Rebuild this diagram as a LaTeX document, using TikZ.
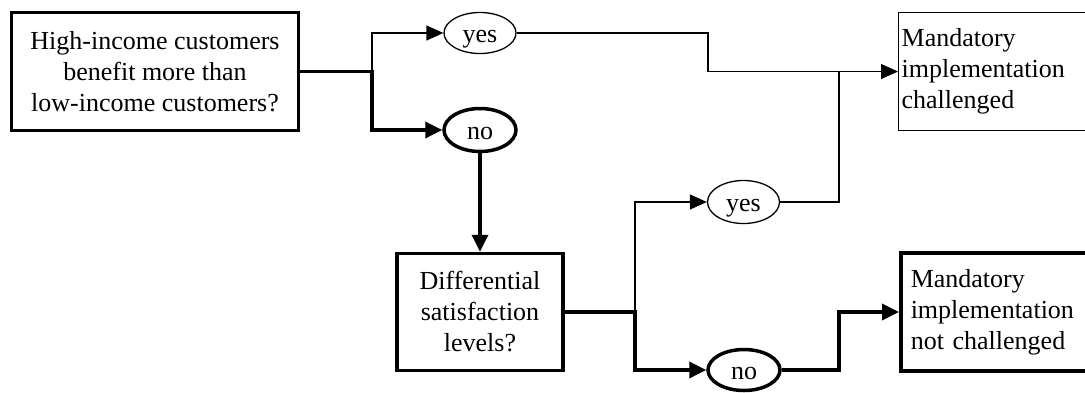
\documentclass[tikz,border=0pt]{standalone}
\usepackage{fontspec}
\setmainfont{Liberation Serif}
\usetikzlibrary{shapes.geometric,arrows.meta,positioning}

\begin{document}
\begin{tikzpicture}[
    x=1pt, y=-1pt,
    font=\fontsize{26}{31}\selectfont,
    question/.style={rectangle, draw, line width=3.5pt, align=center, minimum width=287pt, minimum height=118pt},
    outcome/.style={rectangle, draw, anchor=west, align=left, text width=260pt, minimum height=118pt},
    answer/.style={ellipse, draw, line width=1.3pt, inner sep=0pt, text height=18pt, text depth=0pt, minimum width=72pt, minimum height=41pt},
    arrow/.style={-{Triangle[length=17pt,width=15pt]}, line width=1.3pt},
    thickarrow/.style={-{Triangle[length=17pt,width=16pt]}, line width=3.5pt}
]
\clip (0,0) rectangle (1085,392);

\node[question] (income) at (155,71.5) {High-income customers\\benefit more than\\low-income customers?};
\node[answer] (yesa) at (480,33) {yes};
\node[answer, line width=3.5pt, minimum height=43pt] (noa) at (480,130) {no};
\node[outcome, line width=1.3pt, inner xsep=3pt] (chal) at (898,71.5) {Mandatory\\implementation\\challenged};

\node[question, minimum width=166pt, minimum height=117pt] (satis) at (480,312) {Differential\\satisfaction\\levels?};
\node[answer, minimum height=43pt] (yesb) at (743.5,202) {yes};
\node[answer, line width=3.5pt] (nob) at (744,370) {no};
\node[outcome, line width=3.5pt, inner xsep=10pt] (notchal) at (899,312) {Mandatory\\implementation\\not challenged};

% junctions and bends
\coordinate (forka) at (372,71.5);
\coordinate (forkb) at (635,312);
\coordinate (joina) at (708,71.5);
\coordinate (joinb) at (839,71.5);
\coordinate (joinc) at (839,312);

\draw[thickarrow] (income.east) -- (forka) |- (noa.west);
\draw[arrow] (forka) |- (yesa.west);
\draw[arrow] (yesa.east) -| (joina) -- (chal.west);
\draw[thickarrow] (noa.south) -- (satis.north);

\draw[thickarrow] (satis.east) -- (forkb) |- (nob.west);
\draw[arrow] (forkb) |- (yesb.west);
\draw[line width=1.3pt] (yesb.east) -| (joinb);
\draw[thickarrow] (nob.east) -| (joinc) -- (notchal.west);

\end{tikzpicture}
\end{document}
